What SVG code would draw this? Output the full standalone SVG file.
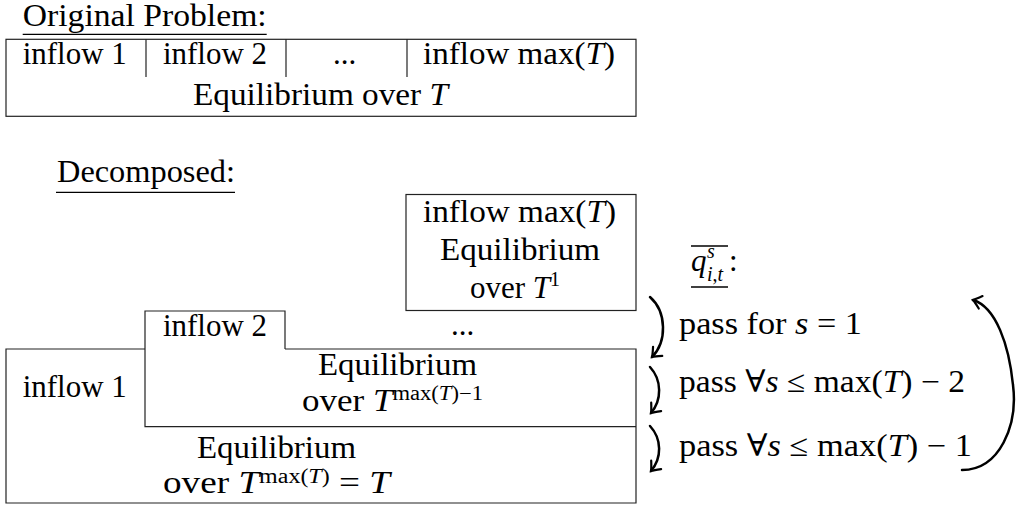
<svg xmlns="http://www.w3.org/2000/svg" width="1017" height="507" viewBox="0 0 1017 507">
<style>
  text { font-family: "Liberation Serif", "DejaVu Serif", "Times New Roman", serif; font-size: 31px; fill: #000; }
  .it { font-style: italic; }
  .sup { font-size: 20px; }
  .box { fill: none; stroke: #222; stroke-width: 1.2; }
  .rule { stroke: #000; stroke-width: 1.3; }
  .arc { fill: none; stroke: #000; stroke-width: 2.5; stroke-linecap: round; }
</style>
<defs>
  <marker id="to" markerUnits="userSpaceOnUse" markerWidth="20" markerHeight="20" refX="0" refY="0" viewBox="-12 -10 14 20" orient="auto">
    <path d="M-8,-6.5 Q-2.5,-1.5 0,0 Q-2.5,1.5 -8,6.5" fill="none" stroke="#000" stroke-width="2.2" stroke-linecap="round"/>
  </marker>
</defs>
<rect width="1017" height="507" fill="#fff"/>

<g id="original-title">
  <text x="22.7" y="26" textLength="244" lengthAdjust="spacingAndGlyphs">Original Problem:</text>
  <line class="rule" x1="22.7" y1="34.3" x2="266.7" y2="34.3"/>
</g>

<g id="original-box">
  <rect class="box" x="6" y="39.3" width="630" height="77"/>
  <line class="box" x1="146" y1="39.3" x2="146" y2="77"/>
  <line class="box" x1="286" y1="39.3" x2="286" y2="77"/>
  <line class="box" x1="407" y1="39.3" x2="407" y2="77"/>
  <text x="22.7" y="63.5" textLength="104" lengthAdjust="spacingAndGlyphs">inflow 1</text>
  <text x="163" y="63.5" textLength="104" lengthAdjust="spacingAndGlyphs">inflow 2</text>
  <text x="333" y="63.5">...</text>
  <text x="423" y="63.5" textLength="192" lengthAdjust="spacingAndGlyphs">inflow max(<tspan class="it">T</tspan>)</text>
  <text x="193" y="105" textLength="255" lengthAdjust="spacingAndGlyphs">Equilibrium over <tspan class="it">T</tspan></text>
</g>

<g id="decomposed-title">
  <text x="57" y="182" textLength="178" lengthAdjust="spacingAndGlyphs">Decomposed:</text>
  <line class="rule" x1="56" y1="192.3" x2="235" y2="192.3"/>
</g>

<g id="block-inflow-max">
  <rect class="box" x="406" y="194.5" width="230" height="116"/>
  <text x="423" y="222" textLength="193" lengthAdjust="spacingAndGlyphs">inflow max(<tspan class="it">T</tspan>)</text>
  <text x="440" y="260" textLength="160" lengthAdjust="spacingAndGlyphs">Equilibrium</text>
  <text x="470" y="298">over <tspan class="it">T</tspan><tspan class="sup" dy="-12">1</tspan></text>
</g>

<g id="dots">
  <text x="451" y="335">...</text>
</g>

<g id="block-main">
  <path class="box" d="M145,349 H6 V503 H636 V349 H285"/>
  <path class="box" d="M285,349 V311 H145 V426.7 H636"/>
  <text x="163" y="336" textLength="104" lengthAdjust="spacingAndGlyphs">inflow 2</text>
  <text x="22.7" y="396.5" textLength="104" lengthAdjust="spacingAndGlyphs">inflow 1</text>
  <text x="318" y="375" textLength="159" lengthAdjust="spacingAndGlyphs">Equilibrium</text>
  <text x="302" y="411" textLength="181" lengthAdjust="spacingAndGlyphs">over <tspan class="it">T</tspan><tspan class="sup" dy="-11">max(</tspan><tspan class="sup it">T</tspan><tspan class="sup">)−1</tspan></text>
  <text x="197" y="458" textLength="159" lengthAdjust="spacingAndGlyphs">Equilibrium</text>
  <text x="163" y="493" textLength="227" lengthAdjust="spacingAndGlyphs">over <tspan class="it">T</tspan><tspan class="sup" dy="-10">max(</tspan><tspan class="sup it">T</tspan><tspan class="sup">)</tspan><tspan dy="10"> = </tspan><tspan class="it">T</tspan></text>
</g>

<g id="q-label">
  <line class="rule" x1="691" y1="246" x2="728" y2="246"/>
  <text x="691" y="271" class="it">q</text>
  <text x="707" y="258" class="sup it">s</text>
  <text x="707" y="281" class="sup"><tspan class="it">i</tspan>,<tspan class="it">t</tspan></text>
  <text x="729" y="271">:</text>
  <line class="rule" x1="691" y1="287" x2="728" y2="287"/>
</g>

<g id="connectors">
  <path class="arc" d="M650,297 C667,312 667,342 652,357" marker-end="url(#to)"/>
  <path class="arc" d="M650,367 C662,380 662,400 651,413" marker-end="url(#to)"/>
  <path class="arc" d="M650,426 C662,439 662,458 651,471" marker-end="url(#to)"/>
  <path class="arc" d="M962,470 C1000,470 1018,425 1013,385 C1009,345 996,307 973,300" marker-end="url(#to)"/>
</g>

<g id="connector-labels">
  <text x="679" y="334" textLength="183" lengthAdjust="spacingAndGlyphs">pass for <tspan class="it">s</tspan> = 1</text>
  <text x="679" y="392" textLength="286" lengthAdjust="spacingAndGlyphs">pass ∀<tspan class="it">s</tspan> ≤ max(<tspan class="it">T</tspan>) − 2</text>
  <text x="679" y="456" textLength="293" lengthAdjust="spacingAndGlyphs">pass ∀<tspan class="it">s</tspan> ≤ max(<tspan class="it">T</tspan>) − 1</text>
</g>
</svg>
